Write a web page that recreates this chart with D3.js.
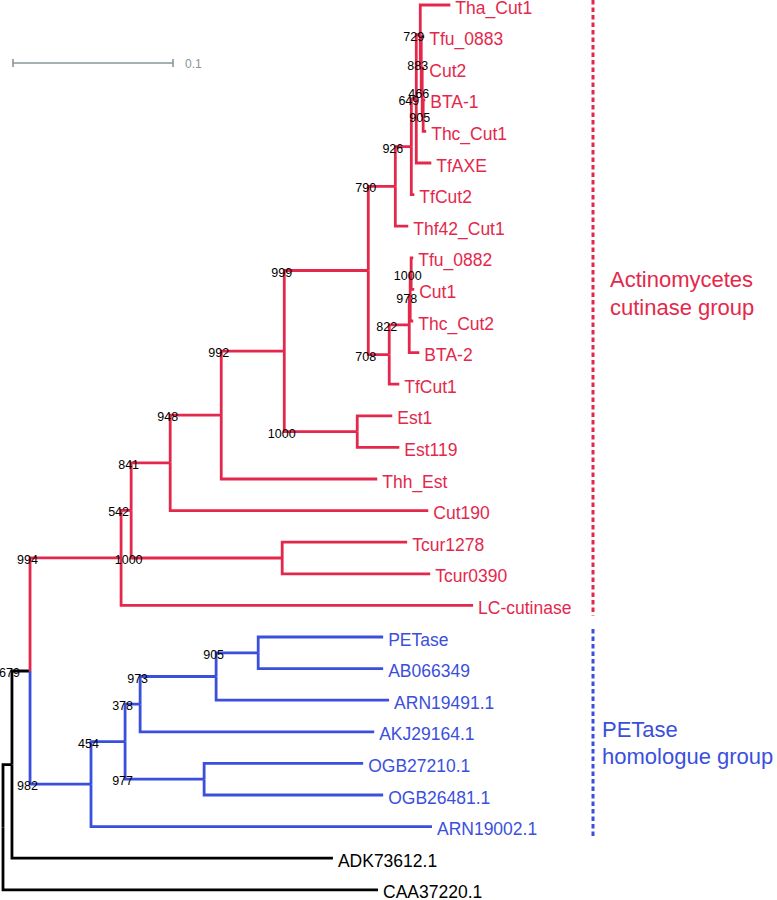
<!DOCTYPE html>
<html><head><meta charset="utf-8">
<script src="https://cdn.jsdelivr.net/npm/d3@7"></script>
<style>body{margin:0;background:#fff}svg{display:block}</style>
</head><body>
<svg id="chart" width="777" height="900"></svg>
<script>
// ---------- data ----------
const nodeIds = ["root","n1","n679","A","C","D","F","G","H","J","L","M","P","Tha_Cut1","Q","Tfu_0883","R","Cut2","S","BTA-1","Thc_Cut1","TfAXE","TfCut2","Thf42_Cut1","K","T","U","V","Tfu_0882","Cut1","Thc_Cut2","BTA-2","TfCut1","I","Est1","Est119","Thh_Est","Cut190","E","Tcur1278","Tcur0390","LC-cutinase","B","W","X","Z","AA","PETase","AB066349","ARN19491.1","AKJ29164.1","Y","OGB27210.1","OGB26481.1","ARN19002.1","ADK73612.1","CAA37220.1"];
const parentIds = ["","root","n1","n679","A","C","D","F","G","H","J","L","M","P","P","Q","Q","R","R","S","S","M","L","J","H","K","T","U","V","V","U","T","K","G","I","I","F","D","C","E","E","A","n679","B","W","X","Z","AA","AA","Z","X","W","Y","Y","B","n1","root"];
const branchLengths = [0,0.0056,0.0113,0.0569,0.0063,0.0244,0.0319,0.0394,0.0525,0.0169,0.0100,0.0031,0.0025,0.0188,0.0006,0.0019,0.0006,0.0013,0.0006,0.0013,0.0019,0.0094,0.0019,0.0081,0.0131,0.0125,0.0006,0.0006,0.0013,0.0019,0.0019,0.0063,0.0063,0.0456,0.0219,0.0263,0.0975,0.1613,0.0944,0.0781,0.0925,0.2200,0.0381,0.0213,0.0094,0.0475,0.0263,0.0781,0.0781,0.1081,0.1463,0.0494,0.0994,0.1119,0.2131,0.2006,0.2344];
const supports = [null,null,679,994,542,841,948,992,999,790,926,649,729,null,883,null,466,null,905,null,null,null,null,null,708,822,978,1000,null,null,null,null,null,1000,null,null,null,null,1000,null,null,null,982,454,378,973,905,null,null,null,null,977,null,null,null,null,null];
const cladeRoots = ["A","B"];
const cladeColors = ["#E4284C","#3B4FDD"];
const cladeLabels = [["Actinomycetes","cutinase group"],["PETase","homologue group"]];
const scaleBarValue = 0.1;
const scaleBarLabel = "0.1";

// ---------- layout ----------
const svg = d3.select("#chart");
const FONT = "'Liberation Sans', Arial, Helvetica, sans-serif";
const table = nodeIds.map((id,i)=>({id, parent: parentIds[i] || null, len: branchLengths[i], support: supports[i]}));
const root = d3.stratify().id(d=>d.id).parentId(d=>d.parent)(table);

root.eachBefore(n => { n.dist = n.parent ? n.parent.dist + n.data.len : 0; });
root.eachBefore(n => {
  const ci = cladeRoots.indexOf(n.id);
  n.color = ci >= 0 ? cladeColors[ci] : (n.parent ? n.parent.color : "#000");
});

const leaves = root.leaves();
const x = d3.scaleLinear().domain([0, 0.1]).range([3, 163]);
const y = d3.scalePoint().domain(leaves.map(d=>d.id)).range([5, 889.8]);
root.eachAfter(n => { n.yy = n.children ? d3.mean(n.children, c=>c.yy) : y(n.id); });

// branches
const links = root.links();
const order = l => l.target.color === "#000" ? 0 : 1;
links.sort((a,b)=>order(a)-order(b));
svg.append("g").selectAll("path").data(links).join("path")
  .attr("d", l => `M${x(l.source.dist)},${l.source.yy}V${l.target.yy}H${x(l.target.dist)}`)
  .attr("fill","none")
  .attr("stroke", l => l.target.color)
  .attr("stroke-width", 2.8)
  .attr("stroke-linejoin","miter");

// leaf labels
svg.append("g").selectAll("text").data(leaves).join("text")
  .attr("x", d => x(d.dist) + 5)
  .attr("y", d => d.yy + 8.5)
  .attr("fill", d => d.color)
  .attr("font-family", FONT)
  .attr("font-size", 17.5)
  .text(d => d.id);

// support labels (at start of branch)
const supNodes = root.descendants().filter(n => n.data.support != null);
svg.append("g").selectAll("text").data(supNodes).join("text")
  .attr("x", d => x(d.parent.dist) - 2.5)
  .attr("y", d => d.yy + 6)
  .attr("text-anchor","middle")
  .attr("fill","#000")
  .attr("font-family", FONT)
  .attr("font-size", 12.5)
  .text(d => d.data.support);

// clade brackets
cladeRoots.forEach((cid, i) => {
  const node = root.find(n => n.id === cid);
  const lv = node.leaves();
  const y0 = Math.max(0, lv[0].yy - 8), y1 = lv[lv.length-1].yy + 10;
  svg.append("line").attr("x1",593).attr("x2",593).attr("y1",y0).attr("y2",y1)
    .attr("stroke", cladeColors[i]).attr("stroke-width",3).attr("stroke-dasharray","4.5,3");
  const ty = i === 0 ? [287, 315] : [737, 764];
  const tx = i === 0 ? 610 : 602;
  cladeLabels[i].forEach((t, j) => {
    svg.append("text").attr("x", tx).attr("y", ty[j])
      .attr("fill", cladeColors[i]).attr("font-family", FONT).attr("font-size", 22).text(t);
  });
});

// scale bar
const sb = svg.append("g").attr("stroke","#8A9599").attr("stroke-width",1.6);
const sx0 = 13, sx1 = 13 + (x(scaleBarValue) - x(0)), sy = 63;
sb.append("line").attr("x1",sx0).attr("x2",sx1).attr("y1",sy).attr("y2",sy);
sb.append("line").attr("x1",sx0).attr("x2",sx0).attr("y1",sy-4).attr("y2",sy+4);
sb.append("line").attr("x1",sx1).attr("x2",sx1).attr("y1",sy-4).attr("y2",sy+4);
svg.append("text").attr("x", sx1 + 12).attr("y", sy + 4.5)
  .attr("fill","#8A9599").attr("font-family",FONT).attr("font-size",12).text(scaleBarLabel);
</script>
</body></html>
